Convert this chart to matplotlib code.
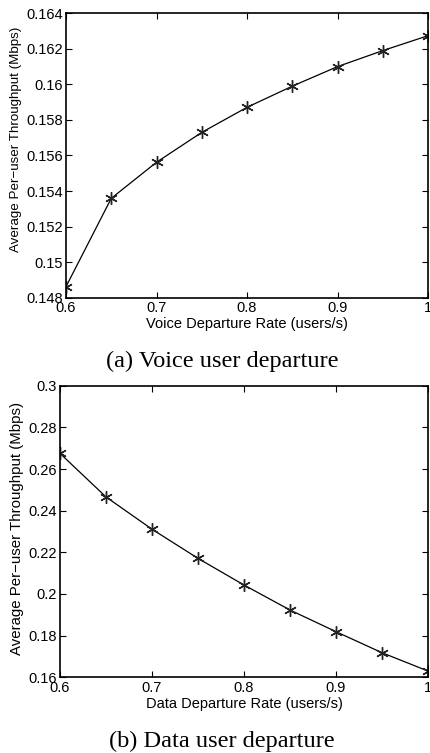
import matplotlib
matplotlib.use("Agg")
import matplotlib.pyplot as plt

plt.rcParams['font.family'] = ['Liberation Sans', 'DejaVu Sans']

x = [0.6, 0.65, 0.7, 0.75, 0.8, 0.85, 0.9, 0.95, 1.0]
voice_thr = [0.14862, 0.15359, 0.15562, 0.1573, 0.15871, 0.1599, 0.1610, 0.1619, 0.16274]
data_thr = [0.2675, 0.2466, 0.2311, 0.2171, 0.2043, 0.1923, 0.1819, 0.1718, 0.1630]

xticks = [0.6, 0.7, 0.8, 0.9, 1.0]
xticklabels = ['0.6', '0.7', '0.8', '0.9', '1']
voice_yticks = [0.148, 0.15, 0.152, 0.154, 0.156, 0.158, 0.16, 0.162, 0.164]
voice_ylabels = ['0.148', '0.15', '0.152', '0.154', '0.156', '0.158', '0.16', '0.162', '0.164']
data_yticks = [0.16, 0.18, 0.2, 0.22, 0.24, 0.26, 0.28, 0.3]
data_ylabels = ['0.16', '0.18', '0.2', '0.22', '0.24', '0.26', '0.28', '0.3']

W, H = 430, 753
fig = plt.figure(figsize=(W / 100, H / 100), dpi=100)

def ax_rect(l, t, r, b):
    return [l / W, 1 - b / H, (r - l) / W, (b - t) / H]

panels = [
    (ax_rect(66, 13.3, 428, 297.7), voice_thr, voice_yticks, voice_ylabels,
     'Voice Departure Rate (users/s)', '(a) Voice user departure', 361.7,
     9.6, 16.5, 139),
    (ax_rect(60, 385.7, 428, 677.3), data_thr, data_yticks, data_ylabels,
     'Data Departure Rate (users/s)', '(b) Data user departure', 741.7,
     10.8, 17.5, 528.5),
]

for rect, yv, yt, yl, xlab, cap, capy, ylsize, ylx, yly in panels:
    ax = fig.add_axes(rect)
    ax.plot(x, yv, color='black', linewidth=0.9, marker=(6, 2, 0),
            markersize=9, markeredgewidth=1.0, markeredgecolor='#222222')
    ax.set_xlim(0.6, 1.0)
    ax.set_ylim(yt[0], yt[-1])
    ax.set_xticks(xticks)
    ax.set_xticklabels(xticklabels)
    ax.set_yticks(yt)
    ax.set_yticklabels(yl)
    ax.tick_params(direction='in', top=True, right=True, labelsize=10.5,
                   length=4, width=0.8, pad=2, colors='black')
    ax.tick_params(axis='x', pad=2.5)
    for s in ax.spines.values():
        s.set_linewidth(1.2)
    ax.set_xlabel(xlab, fontsize=10.5, labelpad=1.5)
    fig.text(ylx / W, 1 - yly / H, 'Average Per\u2212user Throughput (Mbps)',
             rotation=90, ha='center', va='center', fontsize=ylsize)
    fig.text(222 / W, 1 - capy / H, cap,
             ha='center', va='center', fontsize=17.5, family='Liberation Serif')

fig.savefig('out.png', dpi=100)
